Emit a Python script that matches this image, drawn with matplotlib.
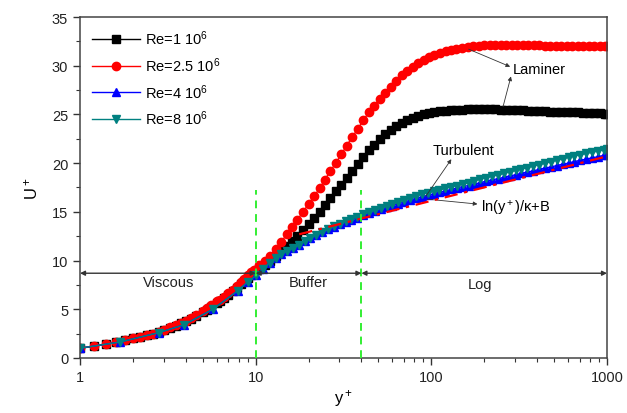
import matplotlib
matplotlib.use("Agg")
import matplotlib.pyplot as plt
from matplotlib.ticker import FixedLocator, NullFormatter, MultipleLocator

plt.rcParams.update({
    "font.family": ["Liberation Sans", "DejaVu Sans"],
    "font.size": 10.5,
    "mathtext.fontset": "custom",
    "mathtext.rm": "Liberation Sans",
    "mathtext.it": "Liberation Sans",
})

# wall-normal distance (y+) of the cells, laminar cases
yp_lam = [1.0, 1.2, 1.4, 1.6, 1.8, 2.0, 2.2, 2.4, 2.6, 2.8,
          3.0, 3.25, 3.5, 3.75, 4.0, 4.3, 4.6, 5.0, 5.3, 5.6,
          6.0, 6.3, 6.6, 7.0, 7.4, 7.8, 8.2, 8.6, 9.0, 9.4,
          9.8, 10.5, 11.3, 12.1, 13.0, 14.0, 15.0, 16.1, 17.3, 18.6,
          20.0, 21.5, 23.1, 24.8, 26.6, 28.6, 30.7, 33.0, 35.5, 38.1,
          41.0, 44.0, 47.3, 50.8, 54.6, 58.7, 63.1, 67.8, 72.8, 78.3,
          84.1, 90.4, 97.2, 104, 112, 121, 130, 139, 150, 161,
          173, 186, 200, 215, 231, 248, 267, 287, 308, 331,
          356, 383, 411, 442, 475, 511, 549, 590, 634, 682,
          733, 787, 846, 910, 978, 1000]

u_re1 = [1.0, 1.2, 1.4, 1.6, 1.8, 2.0, 2.2, 2.4, 2.5, 2.7,
         2.9, 3.1, 3.3, 3.55, 3.8, 4.0, 4.3, 4.7, 4.95, 5.2,
         5.6, 5.85, 6.15, 6.5, 6.85, 7.2, 7.55, 7.9, 8.2, 8.5,
         8.7, 9.1, 9.5, 10.0, 10.5, 11.0, 11.5, 12.0, 12.5, 13.1,
         13.8, 14.4, 15.0, 15.7, 16.4, 17.1, 17.8, 18.5, 19.2, 19.9,
         20.6, 21.3, 21.9, 22.5, 23.0, 23.4, 23.8, 24.1, 24.4, 24.6,
         24.8, 25.0, 25.1, 25.25, 25.35, 25.4, 25.45, 25.5, 25.5, 25.55,
         25.55, 25.55, 25.55, 25.55, 25.55, 25.5, 25.5, 25.5, 25.45, 25.45,
         25.4, 25.4, 25.35, 25.35, 25.3, 25.3, 25.25, 25.25, 25.2, 25.2,
         25.15, 25.15, 25.1, 25.1, 25.05, 25.05]

u_re25 = [1.0, 1.2, 1.4, 1.6, 1.8, 2.0, 2.2, 2.4, 2.5, 2.7,
          2.9, 3.15, 3.4, 3.6, 3.8, 4.1, 4.4, 4.8, 5.1, 5.4,
          5.8, 6.0, 6.3, 6.7, 7.0, 7.4, 7.8, 8.1, 8.5, 8.8,
          9.0, 9.5, 10.0, 10.5, 11.2, 11.9, 12.7, 13.4, 14.2, 15.0,
          15.8, 16.6, 17.4, 18.3, 19.2, 20.0, 20.9, 21.8, 22.7, 23.5,
          24.4, 25.2, 25.9, 26.6, 27.2, 27.8, 28.4, 29.0, 29.5, 29.9,
          30.3, 30.6, 30.9, 31.15, 31.35, 31.5, 31.65, 31.75, 31.85, 31.95,
          32.0, 32.05, 32.1, 32.1, 32.1, 32.1, 32.1, 32.1, 32.1, 32.1,
          32.1, 32.1, 32.1, 32.05, 32.05, 32.05, 32.05, 32.05, 32.0, 32.0,
          32.0, 32.0, 32.0, 32.0, 32.0, 32.0]

# turbulent cases
yp_turb = [1.0, 1.7, 2.8, 3.9, 5.7, 7.9, 9.0, 10.1, 11.0, 12.0,
           13.0, 14.0, 15.1, 16.3, 17.6, 19.0, 20.5, 22.1, 23.9, 25.8,
           27.9, 30.1, 32.5, 35.1, 37.9, 40.9, 44.2, 47.7, 51.5, 55.6,
           60.1, 64.9, 70.1, 75.7, 81.8, 88.3, 95.4, 103, 111, 120,
           130, 140, 151, 163, 176, 190, 205, 222, 240, 259,
           280, 302, 326, 352, 380, 411, 444, 479, 518, 559,
           604, 652, 704, 761, 821, 887, 958, 1000]

u_re4 = [1.0, 1.65, 2.6, 3.4, 5.0, 6.9, 7.8, 8.5, 9.1, 9.8,
         10.3, 10.7, 11.0, 11.3, 11.6, 12.0, 12.3, 12.6, 12.9, 13.2,
         13.45, 13.75, 14.0, 14.2, 14.4, 14.65, 14.85, 15.05, 15.25, 15.45,
         15.65, 15.85, 16.0, 16.2, 16.4, 16.55, 16.7, 16.85, 17.0, 17.15,
         17.3, 17.45, 17.6, 17.7, 17.85, 18.0, 18.15, 18.3, 18.4, 18.55,
         18.7, 18.8, 18.95, 19.1, 19.2, 19.35, 19.5, 19.6, 19.75, 19.9,
         20.0, 20.15, 20.3, 20.4, 20.55, 20.65, 20.8, 20.85]

u_re8 = [1.0, 1.65, 2.6, 3.4, 5.0, 6.9, 7.8, 8.5, 9.1, 9.8,
         10.3, 10.7, 11.0, 11.3, 11.6, 12.0, 12.3, 12.6, 12.9, 13.2,
         13.5, 13.8, 14.05, 14.3, 14.5, 14.75, 15.0, 15.2, 15.4, 15.6,
         15.8, 16.0, 16.2, 16.4, 16.6, 16.8, 16.95, 17.1, 17.25, 17.4,
         17.55, 17.7, 17.85, 18.0, 18.2, 18.35, 18.5, 18.65, 18.8, 18.95,
         19.1, 19.25, 19.4, 19.55, 19.7, 19.85, 20.0, 20.15, 20.3, 20.45,
         20.6, 20.75, 20.85, 21.0, 21.1, 21.25, 21.35, 21.45]

# log-law reference line (straight on a semi-log axis)
yp_log = [17.7, 1000]
u_log = [12.7, 20.7]

fig = plt.figure(figsize=(6.27, 4.14), dpi=100)
ax = fig.add_axes([0.1276, 0.1329, 0.8405, 0.8236])

ax.plot(yp_lam, u_re1, color="black", marker="s", markersize=5.2, lw=1,
        label="Re=1 10$^6$")
ax.plot(yp_lam, u_re25, color="red", marker="o", markersize=6, lw=1,
        label="Re=2.5 10$^6$")
ax.plot(yp_turb, u_re4, color="blue", marker="^", markersize=5.5, lw=1,
        label="Re=4 10$^6$")
ax.plot(yp_turb, u_re8, color="#008080", marker="v", markersize=6, lw=1,
        label="Re=8 10$^6$")
ax.plot(yp_log, u_log, color="red", lw=1.6, linestyle=(0, (6, 3, 1.5, 3)), zorder=5)

# region boundaries
for xv in (10, 40):
    ax.plot([xv, xv], [0, 17.2], color="#33ee33", lw=1.4, linestyle=(0, (4, 3)), zorder=6)

arr = dict(arrowstyle="<|-|>", color="#333333", lw=1, mutation_scale=7,
           shrinkA=0, shrinkB=0)
ax.annotate("", xy=(1, 8.7), xytext=(10, 8.7), arrowprops=arr, zorder=7)
ax.annotate("", xy=(10, 8.7), xytext=(40, 8.7), arrowprops=arr, zorder=7)
ax.annotate("", xy=(40, 8.7), xytext=(1000, 8.7), arrowprops=arr, zorder=7)
ax.text(3.2, 7.8, "Viscous", ha="center", va="center", color="#222222")
ax.text(19.8, 7.8, "Buffer", ha="center", va="center", color="#222222")
ax.text(190, 7.6, "Log", ha="center", va="center", color="#222222")

thin = dict(arrowstyle="-|>", color="#333333", lw=0.6, mutation_scale=6,
            shrinkA=0, shrinkB=0)
ax.text(290, 29.7, "Laminer", ha="left", va="center")
ax.annotate("", xy=(281, 29.9), xytext=(163, 31.7), arrowprops=thin)
ax.annotate("", xy=(284, 28.9), xytext=(256, 25.8), arrowprops=thin)
ax.text(152, 21.3, "Turbulent", ha="center", va="center")
ax.annotate("", xy=(130, 20.4), xytext=(93, 16.6), arrowprops=thin)
ax.text(193, 15.4, "ln(y$^+$)/κ+B", ha="left", va="center")
ax.annotate("", xy=(183, 15.8), xytext=(95, 16.3), arrowprops=thin)

ax.set_xscale("log")
ax.set_xlim(1, 1000)
ax.set_ylim(0, 35)
ax.xaxis.set_major_locator(FixedLocator([1, 10, 100, 1000]))
ax.set_xticklabels(["1", "10", "100", "1000"])
ax.xaxis.set_minor_formatter(NullFormatter())
ax.yaxis.set_major_locator(MultipleLocator(5))
ax.yaxis.set_minor_locator(MultipleLocator(2.5))
ax.tick_params(which="both", direction="out", top=False, right=False,
               color="#333333", labelcolor="#222222")
ax.tick_params(which="major", length=5, width=1)
ax.tick_params(which="minor", length=3, width=0.8)
for s in ax.spines.values():
    s.set_color("#444444")
    s.set_linewidth(1.1)

ax.set_xlabel("y$^+$", fontsize=12, labelpad=2)
ax.set_ylabel("U$^+$", fontsize=12, labelpad=8)

ax.legend(loc="upper left", frameon=False, handlelength=3.3, handletextpad=0.35,
          borderaxespad=0.4, labelspacing=0.55, fontsize=10.5)

fig.savefig("out.png", dpi=100)
